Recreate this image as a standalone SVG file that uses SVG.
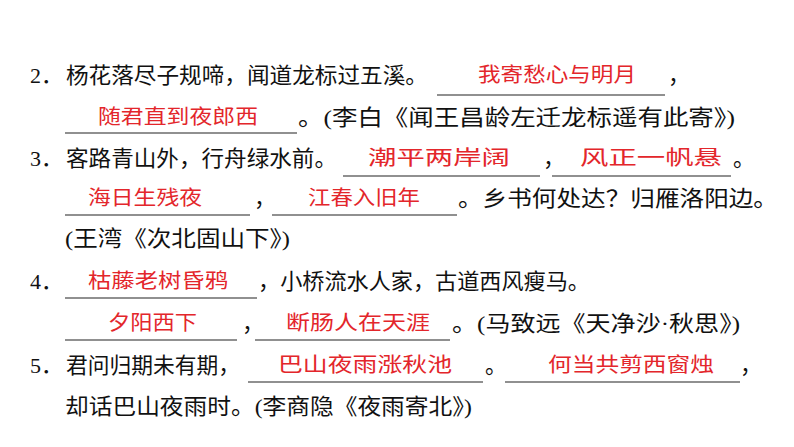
<svg xmlns="http://www.w3.org/2000/svg" width="794" height="447" viewBox="0 0 794 447">
<style>
.t{font-family:"Liberation Serif","Noto Sans CJK SC",serif;font-size:22px;fill:#111}
.r{font-family:"Noto Sans CJK SC",sans-serif;font-size:20px;fill:#e3262b}
.u{stroke:#222;stroke-width:1.2}
</style>
<rect width="794" height="447" fill="#fff"/>
<g id="lines">
<line class="u" x1="437" y1="95" x2="665" y2="95"/>
<line class="u" x1="65" y1="133" x2="297" y2="133"/>
<line class="u" x1="343" y1="176" x2="540" y2="176"/>
<line class="u" x1="552" y1="176" x2="731" y2="176"/>
<line class="u" x1="65" y1="215" x2="250" y2="215"/>
<line class="u" x1="272" y1="215" x2="457" y2="215"/>
<line class="u" x1="65" y1="298" x2="257" y2="298"/>
<line class="u" x1="65" y1="340" x2="237" y2="340"/>
<line class="u" x1="255" y1="340" x2="450" y2="340"/>
<line class="u" x1="248" y1="382" x2="483" y2="382"/>
<line class="u" x1="505" y1="382" x2="740" y2="382"/>
</g>
<g id="text">
<text class="t" x="30" y="83">2．</text>
<text class="t" x="66" y="83" textLength="362" lengthAdjust="spacingAndGlyphs">杨花落尽子规啼，闻道龙标过五溪。</text>
<text class="r" x="478" y="82" textLength="158" lengthAdjust="spacingAndGlyphs">我寄愁心与明月</text>
<text class="t" x="668" y="83">，</text>
<text class="r" x="98" y="124" textLength="160" lengthAdjust="spacingAndGlyphs">随君直到夜郎西</text>
<text class="t" x="298" y="125" textLength="437" lengthAdjust="spacingAndGlyphs">。(李白《闻王昌龄左迁龙标遥有此寄》)</text>
<text class="t" x="30" y="166">3．</text>
<text class="t" x="66" y="166" textLength="271" lengthAdjust="spacingAndGlyphs">客路青山外，行舟绿水前。</text>
<text class="r" x="368" y="165" textLength="142" lengthAdjust="spacingAndGlyphs">潮平两岸阔</text>
<text class="t" x="543" y="166">，</text>
<text class="r" x="580" y="165" textLength="142" lengthAdjust="spacingAndGlyphs">风正一帆悬</text>
<text class="t" x="733" y="166">。</text>
<text class="r" x="88" y="205" textLength="114" lengthAdjust="spacingAndGlyphs">海日生残夜</text>
<text class="t" x="254" y="206">，</text>
<text class="r" x="308" y="205" textLength="112" lengthAdjust="spacingAndGlyphs">江春入旧年</text>
<text class="t" x="458" y="206" textLength="320" lengthAdjust="spacingAndGlyphs">。乡书何处达？归雁洛阳边。</text>
<text class="t" x="65" y="246" textLength="225" lengthAdjust="spacingAndGlyphs">(王湾《次北固山下》)</text>
<text class="t" x="30" y="289">4．</text>
<text class="r" x="88" y="288" textLength="140" lengthAdjust="spacingAndGlyphs">枯藤老树昏鸦</text>
<text class="t" x="258" y="289" textLength="332" lengthAdjust="spacingAndGlyphs">，小桥流水人家，古道西风瘦马。</text>
<text class="r" x="108" y="330" textLength="89" lengthAdjust="spacingAndGlyphs">夕阳西下</text>
<text class="t" x="242" y="331">，</text>
<text class="r" x="286" y="330" textLength="144" lengthAdjust="spacingAndGlyphs">断肠人在天涯</text>
<text class="t" x="452" y="331" textLength="288" lengthAdjust="spacingAndGlyphs">。(马致远《天净沙·秋思》)</text>
<text class="t" x="30" y="373">5．</text>
<text class="t" x="66" y="373" textLength="174" lengthAdjust="spacingAndGlyphs">君问归期未有期，</text>
<text class="r" x="278" y="372" textLength="174" lengthAdjust="spacingAndGlyphs">巴山夜雨涨秋池</text>
<text class="t" x="485" y="373">。</text>
<text class="r" x="548" y="372" textLength="166" lengthAdjust="spacingAndGlyphs">何当共剪西窗烛</text>
<text class="t" x="740" y="373">，</text>
<text class="t" x="65" y="414" textLength="407" lengthAdjust="spacingAndGlyphs">却话巴山夜雨时。(李商隐《夜雨寄北》)</text>
</g>
</svg>
